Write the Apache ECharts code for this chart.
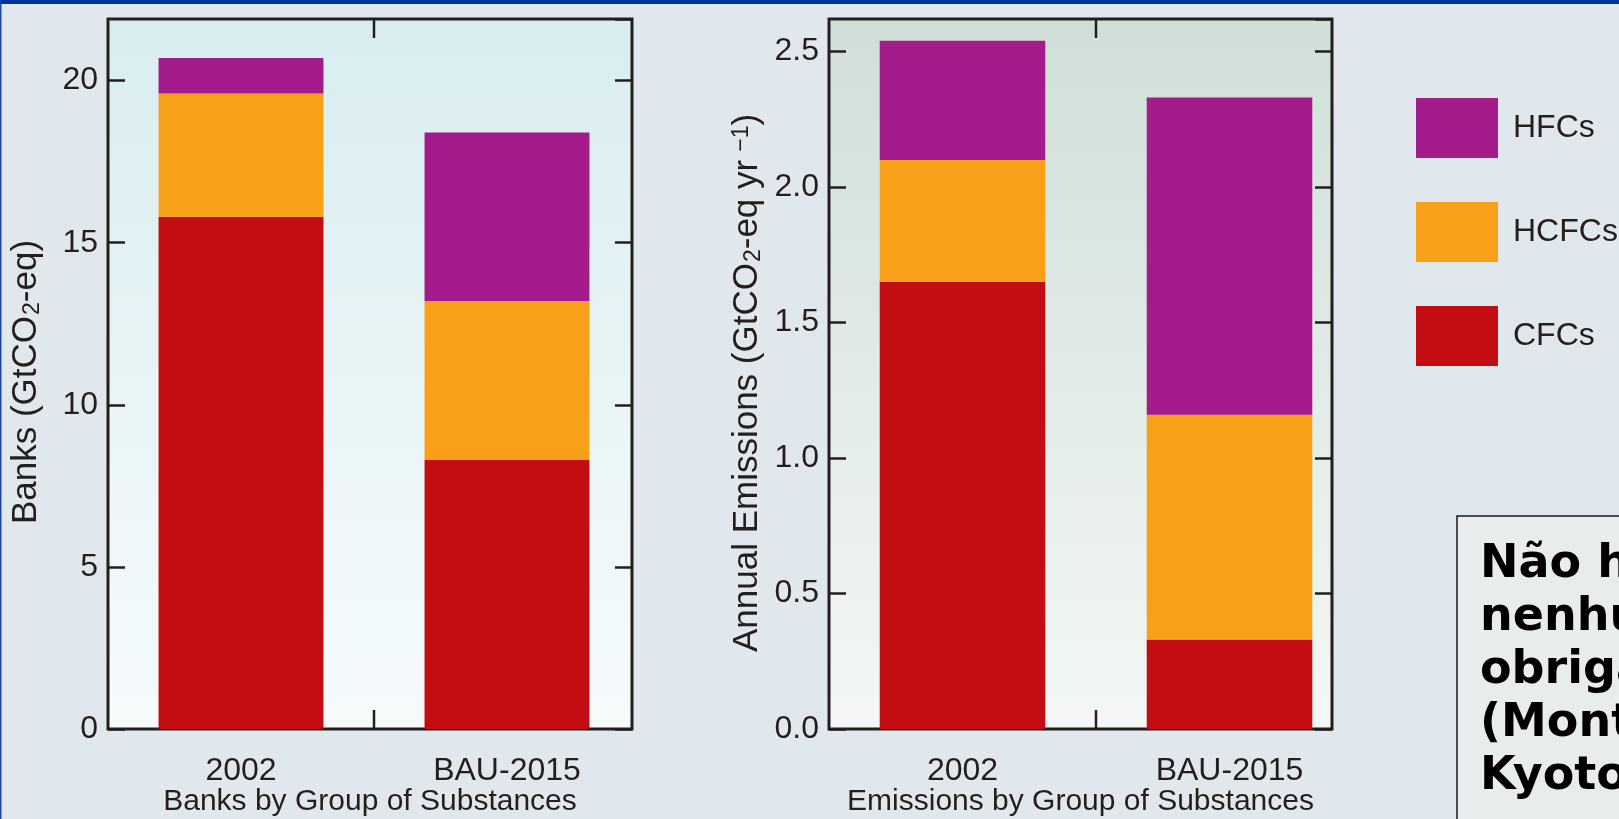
<!DOCTYPE html>
<html>
<head>
<meta charset="utf-8">
<script src="https://cdn.jsdelivr.net/npm/echarts@6/dist/echarts.min.js"></script>
<style>
  html, body { margin: 0; padding: 0; background: #e0e8ee; }
  #chart { width: 1619px; height: 819px; }
</style>
</head>
<body>
<div id="chart"></div>
<script>
// Categories and substance groups
const categories = ['2002', 'BAU-2015'];
const groups = ['HFCs', 'HCFCs', 'CFCs'];

// Banks (GtCO2-eq) by group
const banksCFC = [15.8, 8.3];
const banksHCFC = [3.8, 4.9];
const banksHFC = [1.1, 5.2];

// Annual emissions (GtCO2-eq per year) by group
const emisCFC = [1.65, 0.33];
const emisHCFC = [0.45, 0.83];
const emisHFC = [0.44, 1.17];

// Axis ranges and tick steps
const banksMax = 21.9, banksStep = 5;
const emisMax = 2.62, emisStep = 0.5;

const colors = { HFCs: '#a41b8b', HCFCs: '#f8a018', CFCs: '#c40d12' };
const ink = '#231f20';
const font = "'Liberation Sans', Arial, Helvetica, sans-serif";

const chart = echarts.init(document.getElementById('chart'));

function grad(top, bottom) {
  return new echarts.graphic.LinearGradient(0, 0, 0, 1, [
    { offset: 0, color: top }, { offset: 1, color: bottom }
  ]);
}

function valueAxis(gridIndex, max, step, side, showLabels, name, fmt, shift) {
  return {
    type: 'value', gridIndex, min: 0, max, interval: step, position: side,
    axisLine: { show: false },
    axisTick: { show: true, inside: true, length: 17, lineStyle: { color: ink, width: 2.5 } },
    splitLine: { show: false },
    axisLabel: {
      show: showLabels, showMaxLabel: false, margin: 10,
      color: ink, fontSize: 32, fontFamily: font, formatter: fmt
    },
    name: name || '', nameLocation: 'middle', nameGap: 64,
    nameTextStyle: {
      color: ink, fontSize: 35, fontFamily: font, padding: [0, shift || 0, 0, 0],
      rich: {
        sub: { fontSize: 23, fontFamily: font, color: ink, verticalAlign: 'bottom', padding: [0, 0, 0, 1] },
        sup: { fontSize: 23, fontFamily: font, color: ink, verticalAlign: 'top', padding: [0, 0, 0, 8] }
      }
    }
  };
}

// Short tick drawn on the top and bottom frame lines between the two categories
function midTick(params, api) {
  const cs = params.coordSys;
  const x = api.coord([0, 0])[0] + api.size([1, 0])[0] / 2;
  const st = { stroke: ink, lineWidth: 2.5 };
  return {
    type: 'group',
    children: [
      { type: 'line', shape: { x1: x, y1: cs.y, x2: x, y2: cs.y + 19 }, style: st },
      { type: 'line', shape: { x1: x, y1: cs.y + cs.height - 19, x2: x, y2: cs.y + cs.height }, style: st }
    ]
  };
}

function stackBar(name, data, stack, xi, yi, width) {
  return {
    name, type: 'bar', stack, data, xAxisIndex: xi, yAxisIndex: yi,
    barWidth: width, itemStyle: { color: colors[name] }, silent: true
  };
}

const catLabel = { color: ink, fontSize: 32, fontFamily: font, margin: 26 };
const catName = { color: ink, fontSize: 30, fontFamily: font };
const plain = { show: false };

const option = {
  backgroundColor: '#e0e8ee',
  animation: false,
  grid: [
    // frames
    { left: 108, right: 987, top: 19, bottom: 90, show: true, borderColor: ink, borderWidth: 3,
      backgroundColor: grad('#d9edf0', '#f6fbfc'), outerBoundsMode: 'none' },
    { left: 829, right: 287, top: 19, bottom: 90, show: true, borderColor: ink, borderWidth: 3,
      backgroundColor: grad('#cfdfd8', '#f4f7f5'), outerBoundsMode: 'none' },
    // bar bands
    { left: 108, right: 979, top: 19, bottom: 90, show: false, outerBoundsMode: 'none' },
    { left: 829, right: 256, top: 19, bottom: 90, show: false, outerBoundsMode: 'none' }
  ],
  xAxis: [
    { type: 'category', gridIndex: 0, data: categories,
      axisLine: plain, axisTick: plain, axisLabel: plain,
      name: 'Banks by Group of Substances', nameLocation: 'middle', nameGap: 58, nameTextStyle: catName },
    { type: 'category', gridIndex: 1, data: categories,
      axisLine: plain, axisTick: plain, axisLabel: plain,
      name: 'Emissions by Group of Substances', nameLocation: 'middle', nameGap: 58, nameTextStyle: catName },
    { type: 'category', gridIndex: 2, data: categories, axisLine: plain, axisTick: plain, axisLabel: catLabel },
    { type: 'category', gridIndex: 3, data: categories, axisLine: plain, axisTick: plain, axisLabel: catLabel }
  ],
  yAxis: [
    valueAxis(0, banksMax, banksStep, 'left', true, 'Banks (GtCO{sub|2}-eq)',
      v => (v % banksStep === 0 ? String(v) : ''), 16),
    valueAxis(0, banksMax, banksStep, 'right', false),
    valueAxis(1, emisMax, emisStep, 'left', true, 'Annual Emissions (GtCO{sub|2}-eq yr{sup|−1})',
      v => (Math.abs(v / emisStep - Math.round(v / emisStep)) < 1e-6 ? v.toFixed(1) : ''), 18),
    valueAxis(1, emisMax, emisStep, 'right', false),
    { type: 'value', gridIndex: 2, min: 0, max: banksMax, show: false },
    { type: 'value', gridIndex: 3, min: 0, max: emisMax, show: false }
  ],
  legend: {
    data: groups, orient: 'vertical', left: 1416, top: 98, padding: 0,
    icon: 'rect', itemWidth: 82, itemHeight: 60, itemGap: 44,
    selectedMode: false,
    textStyle: { color: ink, fontSize: 32, fontFamily: font, padding: [0, 0, 0, 10] }
  },
  series: [
    stackBar('CFCs', banksCFC, 'banks', 2, 4, '62%'),
    stackBar('HCFCs', banksHCFC, 'banks', 2, 4, '62%'),
    stackBar('HFCs', banksHFC, 'banks', 2, 4, '62%'),
    stackBar('CFCs', emisCFC, 'emis', 3, 5, '62%'),
    stackBar('HCFCs', emisHCFC, 'emis', 3, 5, '62%'),
    stackBar('HFCs', emisHFC, 'emis', 3, 5, '62%'),
    { type: 'custom', xAxisIndex: 2, yAxisIndex: 4, data: [[0, 0]], renderItem: midTick, silent: true, z: 5 },
    { type: 'custom', xAxisIndex: 3, yAxisIndex: 5, data: [[0, 0]], renderItem: midTick, silent: true, z: 5 }
  ],
  graphic: [
    { type: 'rect', shape: { x: 0, y: 0, width: 1619, height: 4 }, style: { fill: '#003399' }, silent: true },
    { type: 'rect', shape: { x: 0, y: 0, width: 1.5, height: 819 }, style: { fill: '#1c45a8' }, silent: true },
    { type: 'rect', shape: { x: 1457, y: 516, width: 200, height: 340 },
      style: { fill: '#e8eced', stroke: '#1a1a1a', lineWidth: 1.5 }, silent: true },
    { type: 'text', x: 1480, y: 539, silent: true,
      style: {
        text: 'Não há\nnenhuma\nobrigação\n(Montreal ou\nKyoto)',
        fill: '#000', fontSize: 46, fontWeight: 'bold', fontFamily: "'DejaVu Sans', Verdana, sans-serif",
        lineHeight: 53
      } }
  ]
};

chart.setOption(option);
</script>
</body>
</html>
